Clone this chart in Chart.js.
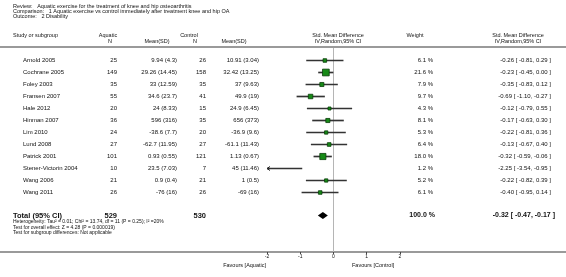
<!DOCTYPE html>
<html><head><meta charset="utf-8">
<script src="https://cdn.jsdelivr.net/npm/chart.js@4/dist/chart.umd.min.js"></script>
<style>html,body{margin:0;padding:0;background:#fff}#wrap{width:566px;height:277px;position:relative}</style>
</head><body><div id="wrap"><canvas id="c"></canvas></div>
<script>
// ---- data ----
const studies = ["Arnold 2005","Cochrane 2005","Foley 2003","Fransen 2007","Hale 2012","Hinman 2007","Lim 2010","Lund 2008","Patrick 2001","Stener-Victorin 2004","Wang 2006","Wang 2011"];
const aquaticN = [25,149,35,55,20,36,24,27,101,10,21,26];
const aquaticMeanSD = ["9.94 (4.3)","29.26 (14.45)","33 (12.59)","34.6 (23.7)","24 (8.33)","596 (316)","-38.6 (7.7)","-62.7 (11.95)","0.93 (0.55)","23.5 (7.03)","0.9 (0.4)","-76 (16)"];
const controlN = [26,158,35,41,15,35,20,27,121,7,21,26];
const controlMeanSD = ["10.91 (3.04)","32.42 (13.25)","37 (9.63)","49.9 (19)","24.9 (6.45)","656 (373)","-36.9 (9.6)","-61.1 (11.43)","1.13 (0.67)","45 (11.46)","1 (0.5)","-69 (16)"];
const weights = [6.1,21.6,7.9,9.7,4.3,8.1,5.3,6.4,18.0,1.2,5.2,6.1];
const smd = [-0.26,-0.23,-0.35,-0.69,-0.12,-0.17,-0.22,-0.13,-0.32,-2.25,-0.22,-0.40];
const ciLow = [-0.81,-0.45,-0.83,-1.10,-0.79,-0.63,-0.81,-0.67,-0.59,-3.54,-0.82,-0.95];
const ciHigh = [0.29,0.00,0.12,-0.27,0.55,0.30,0.36,0.40,-0.06,-0.95,0.39,0.14];
const xTicks = [-2,-1,0,1,2];
const totalAquaticN = 529;
const totalControlN = 530;
const totalWeight = 100.0;
const totalSMD = -0.32;
const totalLow = -0.47;
const totalHigh = -0.17;
const headerLines = ["Review:   Aquatic exercise for the treatment of knee and hip osteoarthritis",
  "Comparison:   1 Aquatic exercise vs control immediately after treatment knee and hip OA",
  "Outcome:   2 Disability"];
const footLines = ["Heterogeneity: Tau\u00B2 = 0.01; Chi\u00B2 = 13.74, df = 11 (P = 0.25); I\u00B2 =20%",
  "Test for overall effect: Z = 4.28 (P = 0.000019)",
  "Test for subgroup differences: Not applicable"];
const favLeft = "Favours [Aquatic]";
const favRight = "Favours [Control]";

// ---- layout ----
const TOTAL_ROW = 12.92;
const FONT = '"Liberation Sans", Arial, sans-serif';
const f2 = v => v.toFixed(2);
const ciText = (e,l,h) => f2(e) + " [ " + f2(l) + ", " + f2(h) + " ]";

const textPlugin = {
  id: 'forestText',
  beforeDraw(chart) {
    const ctx = chart.ctx;
    ctx.save();
    ctx.fillStyle = '#9a9a9a';
    ctx.fillRect(0, 46, 566, 2);
    ctx.fillRect(0, 251, 566, 2);
    ctx.restore();
  },
  afterDraw(chart) {
    const ctx = chart.ctx, ys = chart.scales.y, xs = chart.scales.x;
    ctx.save();
    ctx.fillStyle = '#111';
    ctx.textBaseline = 'middle';
    const txt = (s, x, y, align, size, bold) => {
      ctx.font = (bold ? 'bold ' : '') + size + 'px ' + FONT;
      ctx.textAlign = align;
      ctx.fillText(s, x, y);
    };
    // header
    headerLines.forEach((s, i) => txt(s, 13, 6 + i * 5, 'left', 5.5));
    txt("Study or subgroup", 13, 35, 'left', 5.5);
    txt("Aquatic", 108, 35, 'center', 5.5);
    txt("N", 110, 41, 'center', 5.5);
    txt("Mean(SD)", 157, 41, 'center', 5.5);
    txt("Control", 189, 35, 'center', 5.5);
    txt("N", 195, 41, 'center', 5.5);
    txt("Mean(SD)", 234, 41, 'center', 5.5);
    txt("Std. Mean Difference", 338, 35, 'center', 5.5);
    txt("IV,Random,95% CI", 338, 41, 'center', 5.5);
    txt("Weight", 415, 35, 'center', 5.5);
    txt("Std. Mean Difference", 518, 35, 'center', 5.5);
    txt("IV,Random,95% CI", 518, 41, 'center', 5.5);
    // rows
    studies.forEach((s, i) => {
      const y = ys.getPixelForValue(i);
      txt(s, 23, y, 'left', 6);
      txt(String(aquaticN[i]), 117, y, 'right', 6);
      txt(aquaticMeanSD[i], 177, y, 'right', 6);
      txt(String(controlN[i]), 206, y, 'right', 6);
      txt(controlMeanSD[i], 259, y, 'right', 6);
      txt(weights[i].toFixed(1) + " %", 433, y, 'right', 6);
      txt(ciText(smd[i], ciLow[i], ciHigh[i]), 551, y, 'right', 6);
      if (ciLow[i] < xs.min) {
        const x0 = chart.chartArea.left;
        ctx.strokeStyle = '#222'; ctx.lineWidth = 1;
        ctx.beginPath();
        ctx.moveTo(x0 + 3, y - 2); ctx.lineTo(x0, y); ctx.lineTo(x0 + 3, y + 2);
        ctx.stroke();
      }
    });
    // total
    const ty = ys.getPixelForValue(TOTAL_ROW);
    txt("Total (95% CI)", 13, ty, 'left', 7.5, true);
    txt(String(totalAquaticN), 117, ty, 'right', 7.5, true);
    txt(String(totalControlN), 206, ty, 'right', 7.5, true);
    txt(totalWeight.toFixed(1) + " %", 435, ty, 'right', 7, true);
    txt(ciText(totalSMD, totalLow, totalHigh), 555, ty, 'right', 7, true);
    const xl = xs.getPixelForValue(totalLow), xe = xs.getPixelForValue(totalSMD), xh = xs.getPixelForValue(totalHigh);
    ctx.fillStyle = '#000';
    ctx.beginPath();
    ctx.moveTo(xl, ty); ctx.lineTo(xe, ty - 3.5); ctx.lineTo(xh, ty); ctx.lineTo(xe, ty + 3.5);
    ctx.closePath(); ctx.fill();
    ctx.fillStyle = '#111';
    footLines.forEach((s, i) => txt(s, 13, 222 + i * 5.5, 'left', 5));
    txt(favLeft, 266, 265, 'right', 5.5);
    txt(favRight, 352, 265, 'left', 5.5);
    ctx.restore();
  }
};

const ciData = studies.map((s, i) => ({ y: i, x: [ciLow[i], ciHigh[i]] }));
const ptData = studies.map((s, i) => ({ x: smd[i], y: i }));
const ptRadius = weights.map(w => 1.45 * Math.sqrt(w) / Math.SQRT2);

new Chart(document.getElementById('c'), {
  data: {
    datasets: [
      { type: 'bar', data: ciData, backgroundColor: '#333', borderWidth: 0, barThickness: 1, clip: 0, order: 2 },
      { type: 'scatter', data: ptData, pointStyle: 'rect', pointRadius: ptRadius, pointHoverRadius: ptRadius,
        backgroundColor: '#168a16', borderColor: '#0a3d0a', borderWidth: 0.8, clip: 0, order: 1 }
    ]
  },
  options: {
    indexAxis: 'y',
    responsive: true, maintainAspectRatio: false, animation: false,
    layout: { padding: { left: 267, right: 166, top: 48, bottom: 13 } },
    plugins: { legend: { display: false }, tooltip: { enabled: false } },
    scales: {
      x: {
        type: 'linear', min: -2, max: 2, position: 'bottom', offset: false,
        afterBuildTicks: s => { s.ticks = xTicks.map(v => ({ value: v })); },
        afterFit: s => { s.height = 12; },
        border: { display: false },
        grid: { offset: false, color: c => (c.tick && c.tick.value === 0) ? '#b5b5b5' : 'rgba(0,0,0,0)', tickColor: '#444', tickLength: 2, lineWidth: 1 },
        ticks: { font: { size: 5, family: FONT }, color: '#111', padding: 0, maxRotation: 0, autoSkip: false }
      },
      y: { type: 'linear', min: -1.0417, max: 15.958, reverse: true, display: false, offset: false, grid: { offset: false } }
    }
  },
  plugins: [textPlugin]
});
</script></body></html>
